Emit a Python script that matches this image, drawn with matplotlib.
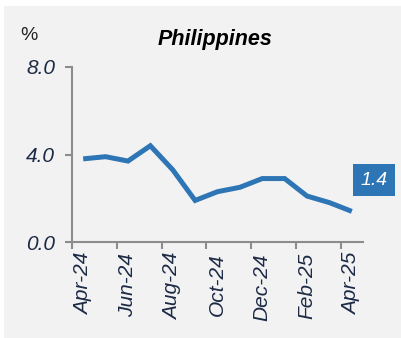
import matplotlib
matplotlib.use("Agg")
import matplotlib.pyplot as plt
from matplotlib.patches import Rectangle

# Philippines headline CPI inflation, y/y %
months = ["Apr-24", "May-24", "Jun-24", "Jul-24", "Aug-24", "Sep-24", "Oct-24",
          "Nov-24", "Dec-24", "Jan-25", "Feb-25", "Mar-25", "Apr-25"]
inflation = [3.8, 3.9, 3.7, 4.4, 3.3, 1.9, 2.3, 2.5, 2.9, 2.9, 2.1, 1.8, 1.4]
yticks = [0.0, 4.0, 8.0]

lineBlue = "#2e75b6"
textNavy = "#1c2a45"
axisGray = "#8c8c8c"

plt.rcParams["font.family"] = ["Liberation Sans", "DejaVu Sans"]

W, H = 401, 338
fig = plt.figure(figsize=(W / 100, H / 100), dpi=100)
fig.patch.set_facecolor("white")
fig.patches.append(Rectangle((4 / W, 0), 1, 1 - 6 / H, transform=fig.transFigure,
                             facecolor="#f2f2f2", edgecolor="none", zorder=-10))

ax = fig.add_axes([72 / W, (H - 242) / H, (363 - 72) / W, (242 - 67) / H])
ax.set_facecolor("none")

x = list(range(len(months)))
ax.plot(x, inflation, color=lineBlue, linewidth=3.6, solid_joinstyle="miter",
        solid_capstyle="butt")

ax.set_xlim(-0.5, len(months) - 0.5)
ax.set_ylim(0, 8)

# tick marks sit between categories, labels on every second month
ax.set_xticks([i - 0.5 for i in range(0, len(months), 2)])
ax.set_xticklabels([])
ax.set_xticks(x[::2], minor=True)
ax.set_xticklabels(months[::2], minor=True, rotation=90, fontsize=15,
                   fontstyle="italic", color=textNavy)
ax.tick_params(axis="x", which="major", direction="out", length=5, width=1.5,
               color=axisGray)
ax.tick_params(axis="x", which="minor", length=0, pad=8)

ax.set_yticks(yticks)
ax.set_yticklabels([f"{v:.1f}" for v in yticks], fontsize=15, fontstyle="italic",
                   color=textNavy)
ax.tick_params(axis="y", direction="out", length=5, width=1.5, color=axisGray, pad=7)

for side in ("top", "right"):
    ax.spines[side].set_visible(False)
for side in ("left", "bottom"):
    ax.spines[side].set_color(axisGray)
    ax.spines[side].set_linewidth(1.5)

# last value label
ax.annotate(f"{inflation[-1]:.1f}", xy=(x[-1], inflation[-1]), xytext=(16, 22.5),
            textcoords="offset points", ha="center", va="center", fontsize=14,
            fontstyle="italic", color="white",
            bbox=dict(boxstyle="square,pad=0.4", facecolor=lineBlue, edgecolor="none"),
            annotation_clip=False)

fig.text(215 / W, (H - 45) / H, "Philippines", ha="center", va="baseline",
         fontsize=15.5, fontweight="bold", fontstyle="italic", color="black")
fig.text(20 / W, (H - 40) / H, "%", ha="left", va="baseline", fontsize=14,
         color="#222222")

fig.savefig("out.png", dpi=100)
